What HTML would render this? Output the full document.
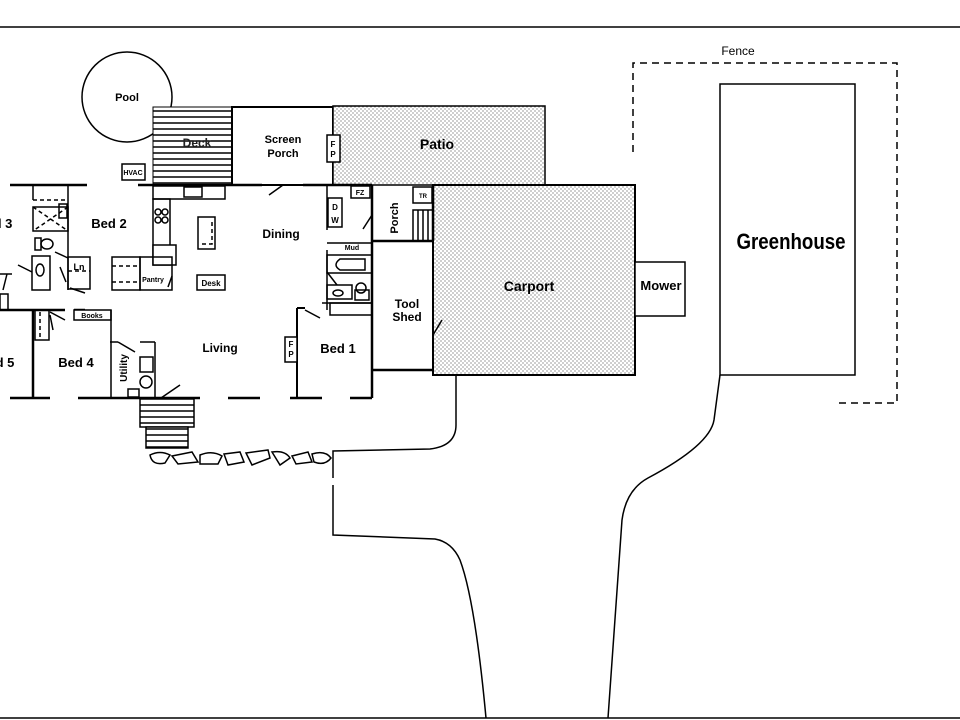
<!DOCTYPE html>
<html><head><meta charset="utf-8"><style>
html,body{margin:0;padding:0;background:#fff;}
svg{display:block;font-family:"Liberation Sans",Arial,sans-serif;font-weight:bold;}
</style></head><body>
<svg width="960" height="720" viewBox="0 0 960 720" xmlns="http://www.w3.org/2000/svg">
<defs>
<pattern id="dots" width="4" height="4" patternUnits="userSpaceOnUse">
<rect width="4" height="4" fill="#fff"/>
<circle cx="1" cy="1" r="0.65" fill="#666"/>
<circle cx="3" cy="3" r="0.65" fill="#666"/>
</pattern>
<pattern id="hstripe" width="6" height="6" patternUnits="userSpaceOnUse">
<rect width="6" height="6" fill="#fff"/>
<line x1="0" y1="3" x2="6" y2="3" stroke="#000" stroke-width="1.5"/>
</pattern>
</defs>
<g stroke="#000" fill="none">
<line x1="0" y1="27" x2="960" y2="27" stroke-width="1.5"/>
<line x1="0" y1="718" x2="960" y2="718" stroke-width="1.5"/>

<circle cx="127" cy="97" r="45" stroke-width="1.5" fill="#fff"/>
<rect x="153" y="107" width="79" height="78" fill="url(#hstripe)" stroke-width="1"/>
<rect x="232" y="107" width="101" height="78" fill="#fff" stroke-width="2"/>
<rect x="333" y="106" width="212" height="79" fill="url(#dots)" stroke-width="1.5"/>
<rect x="327" y="135" width="13" height="27" fill="#fff" stroke-width="1.5"/>
<rect x="433" y="185" width="202" height="190" fill="url(#dots)" stroke-width="2"/>
<rect x="635" y="262" width="50" height="54" fill="#fff" stroke-width="1.5"/>
<rect x="720" y="84" width="135" height="291" fill="#fff" stroke-width="1.5"/>
<polyline points="633,152 633,63 897,63 897,403 837,403" stroke-width="1.5" stroke-dasharray="7,5"/>

<path d="M456,375 L456,425 Q456,446 430,449 L333,451 L333,478 M333,485 L333,535 L435,539 Q452,542 460,560 Q475,600 486,718" stroke-width="1.5"/>
<path d="M608,718 L622,520 Q626,490 648,478 Q710,445 714,420 L720,375" stroke-width="1.5"/>

<g stroke-width="2.5">
<line x1="10" y1="185" x2="87" y2="185"/>
<line x1="138" y1="185" x2="232" y2="185"/>
<line x1="232" y1="185" x2="262" y2="185"/>
<line x1="303" y1="185" x2="372" y2="185"/>
<line x1="0" y1="310" x2="65" y2="310"/>
<line x1="74" y1="310" x2="85" y2="310"/>
<line x1="33" y1="310" x2="33" y2="398"/>
<line x1="10" y1="398" x2="50" y2="398"/>
<line x1="78" y1="398" x2="200" y2="398"/>
<line x1="228" y1="398" x2="260" y2="398"/>
<line x1="290" y1="398" x2="322" y2="398"/>
<line x1="350" y1="398" x2="372" y2="398"/>
<line x1="372" y1="370" x2="372" y2="398"/>
<line x1="372" y1="370" x2="433" y2="370"/>
<line x1="372" y1="185" x2="372" y2="370"/>
<line x1="433" y1="185" x2="433" y2="241"/>
<line x1="372" y1="241" x2="433" y2="241"/>
</g>
<g stroke-width="1.5">
<line x1="33" y1="185" x2="33" y2="200"/>
<line x1="68" y1="185" x2="68" y2="290"/>
<line x1="33" y1="200" x2="68" y2="200" stroke-dasharray="4,3"/>
<rect x="33" y="207" width="35" height="24"/>
<line x1="33" y1="207" x2="68" y2="231" stroke-dasharray="4,3"/>
<line x1="68" y1="207" x2="33" y2="231" stroke-dasharray="4,3"/>
<rect x="59" y="204" width="8" height="14"/>
<rect x="35" y="238" width="6" height="12"/>
<ellipse cx="47" cy="244" rx="6" ry="5"/>
<rect x="32" y="256" width="18" height="34"/>
<ellipse cx="40" cy="270" rx="4" ry="6"/>
<line x1="18" y1="265" x2="32" y2="272"/>
<line x1="55" y1="252" x2="68" y2="258"/>
<rect x="68" y="257" width="22" height="32"/>
<line x1="68" y1="271" x2="90" y2="271" stroke-dasharray="4,3"/>
<line x1="60" y1="267" x2="66" y2="282"/>
<line x1="70" y1="288" x2="85" y2="293"/>
<line x1="0" y1="274" x2="12" y2="274"/>
<line x1="7" y1="274" x2="3" y2="290"/>
<rect x="0" y="294" width="8" height="16"/>
<rect x="35" y="310" width="14" height="30"/>
<line x1="40" y1="312" x2="40" y2="340" stroke-dasharray="4,3"/>
<line x1="50" y1="312" x2="65" y2="320"/>
<line x1="50" y1="315" x2="53" y2="330"/>
<rect x="74" y="310" width="37" height="10" fill="#fff"/>
<line x1="111" y1="310" x2="111" y2="398"/>
<line x1="110" y1="342" x2="118" y2="342"/>
<line x1="118" y1="342" x2="135" y2="352"/>
<line x1="140" y1="342" x2="155" y2="342"/>
<line x1="155" y1="342" x2="155" y2="398"/>
<rect x="140" y="357" width="13" height="15"/>
<circle cx="146" cy="382" r="6"/>
<rect x="128" y="389" width="11" height="8"/>
<line x1="161" y1="398" x2="180" y2="385"/>
<rect x="140" y="398" width="54" height="29" fill="url(#hstripe)"/>
<rect x="146" y="427" width="42" height="21" fill="url(#hstripe)"/>
<path d="M150,455 Q160,450 170,455 L165,463 Q152,466 150,455 Z M172,456 L192,452 L198,462 L178,464 Z M200,455 Q212,450 222,456 L218,464 L200,464 Z M224,454 L240,452 L244,462 L228,465 Z M246,453 L268,450 L270,458 L252,465 Z M272,452 Q285,450 290,458 L280,465 Z M292,456 L308,452 L312,462 L296,464 Z M312,454 Q325,450 331,458 Q325,466 314,462 Z"/>
<rect x="122" y="164" width="23" height="16" fill="#fff"/>
<rect x="153" y="186" width="72" height="13"/>
<rect x="184" y="187" width="18" height="10"/>
<rect x="153" y="199" width="17" height="66"/>
<circle cx="158" cy="212" r="3"/><circle cx="165" cy="212" r="3"/>
<circle cx="158" cy="220" r="3"/><circle cx="165" cy="220" r="3"/>
<rect x="153" y="245" width="23" height="20" fill="#fff"/>
<rect x="198" y="217" width="17" height="32"/>
<path d="M202,244 L212,244 L212,220" stroke-dasharray="4,3"/>
<rect x="112" y="257" width="28" height="33"/>
<rect x="140" y="257" width="32" height="33"/>
<line x1="112" y1="266" x2="138" y2="266" stroke-dasharray="4,3"/>
<line x1="112" y1="282" x2="138" y2="282" stroke-dasharray="4,3"/>
<line x1="172" y1="276" x2="168" y2="287"/>
<rect x="197" y="275" width="28" height="15" fill="#fff"/>
<line x1="269" y1="195" x2="283" y2="185"/>
<line x1="327" y1="185" x2="327" y2="230"/>
<rect x="351" y="186" width="19" height="12" fill="#fff"/>
<rect x="328" y="198" width="14" height="29" fill="#fff"/>
<line x1="363" y1="229" x2="372" y2="215"/>
<line x1="327" y1="243" x2="372" y2="243"/>
<line x1="327" y1="250" x2="327" y2="310"/>
<rect x="327" y="255" width="45" height="18"/>
<path d="M340,259 L365,259 L365,270 L340,270 Q332,265 340,259Z"/>
<line x1="327" y1="272" x2="337" y2="285"/>
<rect x="327" y="285" width="25" height="14"/>
<ellipse cx="338" cy="293" rx="5" ry="3"/>
<rect x="355" y="290" width="14" height="10"/>
<circle cx="361" cy="288" r="5"/>
<line x1="322" y1="303" x2="372" y2="303"/>
<rect x="330" y="303" width="42" height="12"/>
<rect x="413" y="187" width="19" height="16" fill="#fff"/>
<rect x="413" y="210" width="20" height="31"/>
<line x1="418" y1="210" x2="418" y2="241"/><line x1="423" y1="210" x2="423" y2="241"/><line x1="428" y1="210" x2="428" y2="241"/>
<line x1="433" y1="335" x2="442" y2="320"/>
<line x1="297" y1="308" x2="297" y2="398" stroke-width="2"/>
<line x1="297" y1="308" x2="305" y2="308" stroke-width="2"/>
<line x1="305" y1="310" x2="320" y2="318"/>
<rect x="285" y="337" width="12" height="25" fill="#fff"/>
</g>
</g>
<g fill="#000" text-anchor="middle" font-size="13">
<text x="127" y="101" font-size="11">Pool</text>
<text x="197" y="147" font-size="12" fill="#222">Deck</text>
<text x="283" y="143" font-size="11">Screen</text>
<text x="283" y="157" font-size="11">Porch</text>
<text x="333" y="147" font-size="8">F</text>
<text x="333" y="157" font-size="8">P</text>
<text x="437" y="149" font-size="14">Patio</text>
<text x="133" y="175" font-size="7">HVAC</text>
<text x="3" y="228" font-size="13">d 3</text>
<text x="109" y="228" font-size="13">Bed 2</text>
<text x="79" y="270" font-size="9">Ln</text>
<text x="153" y="282" font-size="7">Pantry</text>
<text x="211" y="286" font-size="8">Desk</text>
<text x="281" y="238" font-size="12">Dining</text>
<text x="360" y="195" font-size="7">FZ</text>
<text x="335" y="210" font-size="8">D</text>
<text x="335" y="223" font-size="8">W</text>
<text x="352" y="250" font-size="7">Mud</text>
<text x="423" y="198" font-size="6">TR</text>
<text transform="translate(398,218) rotate(-90)" font-size="11">Porch</text>
<text x="407" y="308" font-size="12">Tool</text>
<text x="407" y="321" font-size="12">Shed</text>
<text x="529" y="291" font-size="14">Carport</text>
<text x="661" y="290" font-size="13">Mower</text>
<text x="791" y="249" font-size="22" transform="translate(791,0) scale(0.85,1) translate(-791,0)">Greenhouse</text>
<text x="738" y="55" font-size="12" font-weight="normal">Fence</text>
<text x="92" y="318" font-size="7">Books</text>
<text x="5" y="367" font-size="13">d 5</text>
<text x="76" y="367" font-size="13">Bed 4</text>
<text transform="translate(127,368) rotate(-90)" font-size="10">Utility</text>
<text x="220" y="352" font-size="12">Living</text>
<text x="291" y="347" font-size="8">F</text>
<text x="291" y="357" font-size="8">P</text>
<text x="338" y="353" font-size="13">Bed 1</text>
</g>
</svg>
</body></html>
